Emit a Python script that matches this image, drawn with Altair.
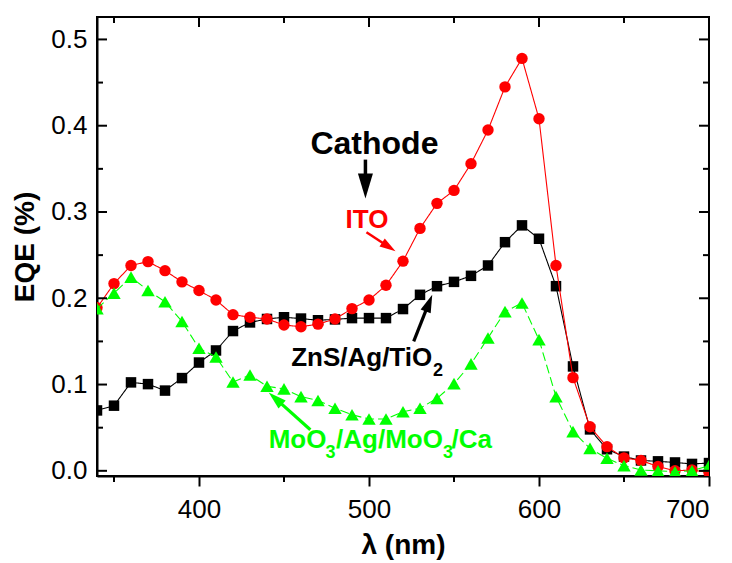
import altair as alt
import pandas as pd

# ---------------- data ----------------
wavelength = list(range(340, 701, 10))

eqe_zns = [0.070, 0.0755, 0.1025, 0.1005, 0.093, 0.1075, 0.1255, 0.1395, 0.162, 0.172,
           0.176, 0.178, 0.1765, 0.1745, 0.1755, 0.177, 0.177, 0.177, 0.1875, 0.204,
           0.214, 0.219, 0.226, 0.238, 0.265, 0.2845, 0.269, 0.214, 0.121, 0.048,
           0.025, 0.0165, 0.012, 0.011, 0.0097, 0.008, 0.009]

eqe_ito = [0.189, 0.217, 0.238, 0.2425, 0.232, 0.219, 0.209, 0.198, 0.181, 0.178,
           0.176, 0.169, 0.167, 0.170, 0.176, 0.188, 0.198, 0.215, 0.243, 0.281,
           0.310, 0.325, 0.356, 0.395, 0.445, 0.478, 0.408, 0.238, 0.108, 0.051,
           0.028, 0.015, 0.012, 0.005, 0.000, 0.001, -0.002]

eqe_moo3 = [0.188, 0.206, 0.2245, 0.209, 0.196, 0.173, 0.142, 0.132, 0.103, 0.111,
            0.098, 0.095, 0.086, 0.0815, 0.0725, 0.065, 0.060, 0.060, 0.0685, 0.0725,
            0.084, 0.101, 0.124, 0.154, 0.1845, 0.1945, 0.152, 0.086, 0.0455, 0.026,
            0.0145, 0.006, 0.001, 0.000, -0.001, 0.000, 0.006]

series_names = ["ZnS/Ag/TiO2", "ITO", "MoO3/Ag/MoO3/Ca"]
series_values = [eqe_zns, eqe_ito, eqe_moo3]
series_colors = ["#000000", "#ff0000", "#00ff00"]
series_shapes = ["square", "circle", "triangle-up"]
series_sizes = [110, 130, 180]
series_dash = [[1, 0], [1, 0], [9, 4]]

x_major = [400, 500, 600, 700]
x_minor = [350, 450, 550, 650]
y_major = [0.0, 0.1, 0.2, 0.3, 0.4, 0.5]
y_minor = [0.05, 0.15, 0.25, 0.35, 0.45]

# annotation texts (data coordinates)
text_labels = ["Cathode", "ITO", "ZnS/Ag/TiO", "2", "MoO", "3", "/Ag/MoO", "3", "/Ca"]
text_x = [503.2, 498.8, 537.2, 537.6, 441.0, 474.4, 480.6, 543.5, 548.5]
text_y = [0.3677, 0.2816, 0.1211, 0.1094, 0.0267, 0.0151, 0.0267, 0.0151, 0.0267]
text_size = [32, 26, 26, 18, 26, 18, 26, 18, 26]
text_color = ["#000000", "#ff0000", "#000000", "#000000",
              "#00ff00", "#00ff00", "#00ff00", "#00ff00", "#00ff00"]
text_align = ["center", "center", "right", "left", "left", "left", "left", "left", "left"]

# arrows: tail, shaft end, tip (data coordinates)
arrow_tail_x = [497.9, 498.5, 526.3, 465.5]
arrow_tail_y = [0.3607, 0.2765, 0.150, 0.0476]
arrow_end_x = [497.9, 510.6, 535.0, 445.4]
arrow_end_y = [0.3376, 0.2608, 0.1934, 0.0831]
arrow_tip_x = [497.9, 515.6, 537.2, 441.0]
arrow_tip_y = [0.3155, 0.2544, 0.2042, 0.0908]
arrow_angle = [180, 123.2, 21.5, 311.8]
arrow_color = ["#000000", "#ff0000", "#000000", "#00ff00"]
arrow_width = [3.5, 2.5, 3.2, 3.2]
arrow_head = [2500, 1024, 1296, 1296]

# ---------------- chart ----------------
W, H = 612, 459
FONT = "Liberation Sans"
xs = alt.Scale(domain=[340, 700], nice=False, zero=False)
ys = alt.Scale(domain=[-0.006, 0.526], nice=False, zero=False)

x_axis = alt.Axis(values=x_major, tickSize=10, tickWidth=2, tickColor="black",
                  labelFontSize=26, labelFont=FONT, labelColor="black", labelPadding=10,
                  domainColor="black", domainWidth=2, grid=False,
                  titleFont=FONT, titleFontSize=28, titleFontWeight="bold",
                  titleColor="black", titlePadding=9)
y_axis = alt.Axis(values=y_major, format=".1f", ticks=False,
                  labelFontSize=26, labelFont=FONT, labelColor="black", labelPadding=10,
                  domainColor="black", domainWidth=2, grid=False,
                  titleFont=FONT, titleFontSize=28, titleFontWeight="bold",
                  titleColor="black", titlePadding=11)


def X(field):
    return alt.X(field, type="quantitative", scale=xs, axis=x_axis, title="λ (nm)")


def Y(field):
    return alt.Y(field, type="quantitative", scale=ys, axis=y_axis, title="EQE (%)")


layers = []
for name, vals, col, shp, sz, dash in zip(series_names, series_values, series_colors,
                                           series_shapes, series_sizes, series_dash):
    df = pd.DataFrame({"wl": wavelength, "v": vals, "s": name})
    base = alt.Chart(df).encode(x=X("wl"), y=Y("v"))
    layers.append(base.mark_line(color=col, strokeWidth=1.1, strokeDash=dash, clip=True))
    layers.append(base.mark_point(shape=shp, filled=True, color=col, size=sz,
                                  opacity=1, clip=True))


# inward / minor ticks
def tick_df(vals):
    return pd.DataFrame({"t": vals})


for vals, ln in [(x_major, 10), (x_minor, 6)]:
    layers.append(alt.Chart(tick_df(vals)).mark_rule(color="black", strokeWidth=2).encode(
        x=X("t"), y=alt.value(0), y2=alt.value(ln)))
layers.append(alt.Chart(tick_df(x_minor)).mark_rule(color="black", strokeWidth=2).encode(
    x=X("t"), y=alt.value(H), y2=alt.value(H + 6)))
for vals, ln in [(y_major, 10), (y_minor, 6)]:
    layers.append(alt.Chart(tick_df(vals)).mark_rule(color="black", strokeWidth=2).encode(
        y=Y("t"), x=alt.value(0), x2=alt.value(ln)))
    layers.append(alt.Chart(tick_df(vals)).mark_rule(color="black", strokeWidth=2).encode(
        y=Y("t"), x=alt.value(W), x2=alt.value(W - ln)))

# arrows
arr = pd.DataFrame({"tx": arrow_tail_x, "ty": arrow_tail_y, "ex": arrow_end_x,
                    "ey": arrow_end_y, "px": arrow_tip_x, "py": arrow_tip_y,
                    "ang": arrow_angle, "c": arrow_color, "w": arrow_width,
                    "hs": arrow_head})
layers.append(alt.Chart(arr).mark_rule().encode(
    x=X("tx"), y=Y("ty"), x2="ex:Q", y2="ey:Q",
    color=alt.Color("c:N", scale=None), strokeWidth=alt.StrokeWidth("w:Q", scale=None)))
layers.append(alt.Chart(arr).mark_point(shape="M0,0L0.3,1L-0.3,1Z", filled=True,
                                        opacity=1).encode(
    x=X("px"), y=Y("py"),
    angle=alt.Angle("ang:Q", scale=None),
    size=alt.Size("hs:Q", scale=None),
    color=alt.Color("c:N", scale=None)))

# texts
for lab, tx, ty, sz, col, al in zip(text_labels, text_x, text_y, text_size,
                                     text_color, text_align):
    d = pd.DataFrame({"x": [tx], "y": [ty], "t": [lab]})
    layers.append(alt.Chart(d).mark_text(font=FONT, fontWeight="bold", fontSize=sz,
                                         color=col, align=al, baseline="alphabetic").encode(
        x=X("x"), y=Y("y"), text="t:N"))

chart = alt.layer(*layers).properties(
    width=W, height=H,
    autosize=alt.AutoSizeParams(type="none"),
    padding={"left": 89, "top": 9, "right": 10, "bottom": 90},
    background="white",
).configure_view(stroke="black", strokeWidth=2)

chart.save("out.html", embed_options={"renderer": "svg", "actions": False})
